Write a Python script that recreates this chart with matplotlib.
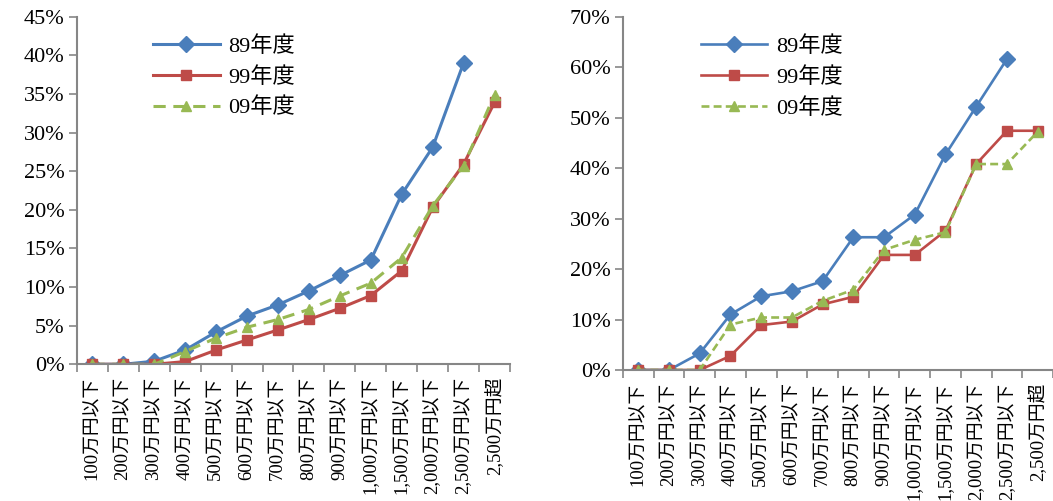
import numpy as np
import matplotlib
matplotlib.use("Agg")
import matplotlib.pyplot as plt
from matplotlib.ticker import FuncFormatter, FixedLocator

plt.rcParams['font.family'] = ['Liberation Serif', 'Noto Sans CJK JP']

# === データ ===
categories = ["100万円以下", "200万円以下", "300万円以下", "400万円以下", "500万円以下",
              "600万円以下", "700万円以下", "800万円以下", "900万円以下", "1,000万円以下",
              "1,500万円以下", "2,000万円以下", "2,500万円以下", "2,500万円超"]
series_names = ["89年度", "99年度", "09年度"]

# 左図 (%)
left_89 = [0.0, 0.0, 0.4, 1.85, 4.2, 6.25, 7.7, 9.5, 11.5, 13.5, 22.0, 28.1, 39.0, np.nan]
left_99 = [0.0, 0.0, 0.0, 0.35, 1.85, 3.15, 4.45, 5.8, 7.25, 8.9, 12.1, 20.3, 25.9, 33.9]
left_09 = [0.0, 0.0, 0.0, 1.65, 3.4, 4.8, 5.8, 7.1, 8.85, 10.5, 13.8, 20.5, 25.7, 34.9]

# 右図 (%)
right_89 = [0.0, 0.0, 3.3, 11.0, 14.6, 15.6, 17.6, 26.3, 26.3, 30.8, 42.7, 52.2, 61.6, np.nan]
right_99 = [0.0, 0.0, 0.0, 2.8, 8.9, 9.6, 13.0, 14.5, 22.8, 22.8, 27.6, 40.8, 47.4, 47.4]
right_09 = [0.0, 0.0, 0.0, 9.0, 10.4, 10.4, 13.7, 15.9, 23.8, 25.8, 27.3, 40.8, 40.8, 47.2]

# === スタイル ===
BLUE = "#4A7EBB"
RED = "#BE4B48"
GREEN = "#98B954"
AXIS_COL = "#868686"

fig = plt.figure(figsize=(10.53, 5.01), dpi=100)
ax1 = fig.add_axes([0.0731, 0.2729, 0.4112, 0.6938])
ax2 = fig.add_axes([0.5916, 0.2615, 0.4084, 0.7052])


def draw(ax, v89, v99, v09, ymax, ystep, lw, dash, legend_anchor):
    x = np.arange(len(categories))
    ax.plot(x, v89, color=BLUE, lw=lw, marker="D", ms=8.5, label=series_names[0])
    ax.plot(x, v99, color=RED, lw=lw, marker="s", ms=6.5, label=series_names[1])
    ax.plot(x, v09, color=GREEN, lw=lw, ls=(0, dash), marker="^", ms=6.5,
            label=series_names[2])

    ax.set_xlim(-0.5, len(categories) - 0.5)
    ax.set_ylim(0, ymax)
    ax.set_yticks(np.arange(0, ymax + 0.1, ystep))
    ax.yaxis.set_major_formatter(FuncFormatter(lambda v, p: f"{v:.0f}%"))
    ax.tick_params(axis="y", labelsize=16, length=6, width=1.2, color=AXIS_COL,
                   direction="out", pad=3)

    ax.set_xticks(x)
    ax.set_xticklabels(categories, rotation=90, fontsize=13.5, va="top", ha="center")
    ax.tick_params(axis="x", which="major", length=0, pad=9)
    ax.xaxis.set_minor_locator(FixedLocator(np.arange(-0.5, len(categories), 1.0)))
    ax.tick_params(axis="x", which="minor", length=6, width=1.2, color=AXIS_COL,
                   direction="out")

    for s in ["top", "right"]:
        ax.spines[s].set_visible(False)
    for s in ["left", "bottom"]:
        ax.spines[s].set_color(AXIS_COL)
        ax.spines[s].set_linewidth(1.5)

    leg = ax.legend(loc="upper left", bbox_to_anchor=legend_anchor, frameon=False,
                    fontsize=16, handlelength=3.0, handletextpad=0.4,
                    labelspacing=0.45, borderaxespad=0)
    return leg


draw(ax1, left_89, left_99, left_09, 45, 5, 2.2, (4, 2.5), (0.155, 0.97))
draw(ax2, right_89, right_99, right_09, 70, 10, 1.9, (3, 1.6), (0.16, 0.97))

fig.savefig("out.png", dpi=100)
